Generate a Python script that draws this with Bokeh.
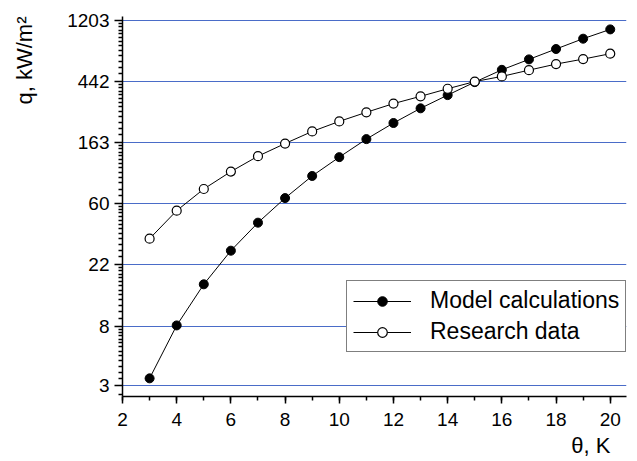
from bokeh.plotting import figure
from bokeh.models import FixedTicker, SingleIntervalTicker, Legend, LegendItem, Title
from bokeh.embed import file_html
from bokeh.resources import INLINE

# ---- data ----
theta = [3, 4, 5, 6, 7, 8, 9, 10, 11, 12, 13, 14, 15, 16, 17, 18, 19, 20]
model_q = [3.4, 8.1, 15.9, 27.6, 43.7, 65.4, 94, 128, 172, 224, 285, 354, 438, 536, 636, 754, 893, 1040]
research_q = [33.6, 53.2, 75.9, 101, 130, 160, 195, 230, 267, 308, 347, 393, 442, 481, 533, 589, 639, 698]

x_tick_step = 2
y_ticks = [3, 8, 22, 60, 163, 442, 1203]
y_tick_labels = ["3", "8", "22", "60", "163", "442", "1203"]

series_names = ["Model calculations", "Research data"]
x_title = "θ, K"
y_title = "q, kW/m²"

# minor ticks: 12 linearly spaced between consecutive majors
y_minor = []
for a, b in zip(y_ticks[:-1], y_ticks[1:]):
    for k in range(1, 13):
        y_minor.append(a + (b - a) * k / 13)
y_minor.append(y_ticks[0] - (y_ticks[1] - y_ticks[0]) / 13)

FONT = "Liberation Sans"

p = figure(width=637, height=461, y_axis_type="log",
           x_range=(2, 20.6), y_range=(2.525, 1285),
           output_backend="svg", toolbar_location=None,
           min_border_left=122, min_border_right=11,
           min_border_top=16, min_border_bottom=65)

p.outline_line_color = None
p.background_fill_color = "white"
p.border_fill_color = "white"

p.xaxis.ticker = SingleIntervalTicker(interval=x_tick_step, num_minor_ticks=2)
p.yaxis.ticker = FixedTicker(ticks=y_ticks, minor_ticks=y_minor)
p.yaxis.major_label_overrides = {v: lab for v, lab in zip(y_ticks, y_tick_labels)}

p.xgrid.visible = False
p.ygrid.ticker = FixedTicker(ticks=y_ticks)
p.ygrid.grid_line_color = "#4a6cc8"
p.ygrid.grid_line_width = 1
p.ygrid.minor_grid_line_color = None

for ax in (p.xaxis, p.yaxis):
    ax.axis_line_color = "black"
    ax.axis_line_width = 1.5
    ax.major_tick_line_color = "black"
    ax.major_tick_line_width = 1.5
    ax.minor_tick_line_color = "black"
    ax.minor_tick_line_width = 1.5
    ax.major_tick_in = 0
    ax.minor_tick_in = 0
    ax.major_label_text_font = FONT
    ax.major_label_text_font_size = "19px"
    ax.major_label_text_color = "black"

p.xaxis.major_tick_out = 7
p.xaxis.minor_tick_out = 4
p.xaxis.major_label_standoff = 9
p.yaxis.major_tick_out = 8
p.yaxis.minor_tick_out = 4
p.yaxis.major_label_standoff = 5

# an empty spacer label on the y axis pushes the y title further out
p.yaxis.axis_label = "\u00a0"
p.yaxis.axis_label_text_font_size = "4px"
p.yaxis.axis_label_standoff = 10

# axis titles as side-panel titles (right/top aligned like the reference)
xt = Title(text=x_title, align="right", vertical_align="bottom", offset=16,
           standoff=4, text_font=FONT, text_font_size="22px",
           text_font_style="normal", text_color="black")
p.add_layout(xt, "below")
yt = Title(text=y_title, align="right", vertical_align="top", offset=0,
           standoff=15, text_font=FONT, text_font_size="22px",
           text_font_style="normal", text_color="black")
p.add_layout(yt, "left")

# lines + markers
l1 = p.line(theta, model_q, line_color="black", line_width=1)
s1 = p.scatter(theta, model_q, marker="circle", size=9, fill_color="black", line_color="black")
l2 = p.line(theta, research_q, line_color="black", line_width=1)
s2 = p.scatter(theta, research_q, marker="circle", size=9, fill_color="white", line_color="black", line_width=1.2)

legend = Legend(items=[LegendItem(label=series_names[0], renderers=[l1, s1]),
                       LegendItem(label=series_names[1], renderers=[l2, s2])],
                location=(224, 44),
                border_line_color="black", border_line_width=1,
                background_fill_color="white", background_fill_alpha=1,
                label_text_font=FONT, label_text_font_size="23px",
                label_text_color="black",
                padding=6, spacing=4, margin=0,
                glyph_width=58, glyph_height=24, label_height=24,
                label_width=187, label_standoff=19)
p.add_layout(legend, "center")

open("out.html", "w").write(file_html(p, INLINE))
